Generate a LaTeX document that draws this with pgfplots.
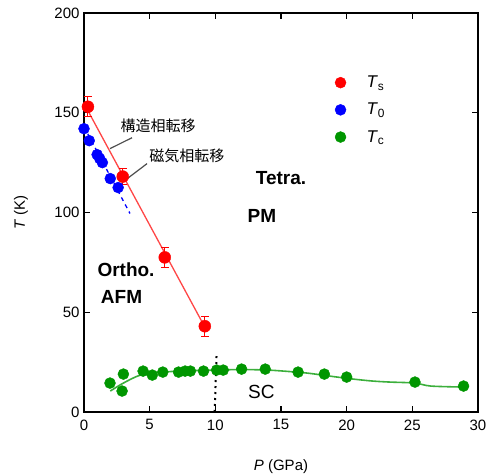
\documentclass[border=0pt]{standalone}
\usepackage{pgfplots}
\pgfplotsset{compat=1.18}
\usepackage{fontspec}
\setmainfont{Liberation Sans}
\newfontfamily\jp{Noto Sans CJK JP}
\definecolor{tsred}{RGB}{255,0,0}
\definecolor{tsline}{RGB}{255,70,70}
\definecolor{tblue}{RGB}{0,0,255}
\definecolor{tcgreen}{RGB}{0,150,0}
\definecolor{tcline}{RGB}{60,175,60}

\begin{document}
\begin{tikzpicture}
\begin{axis}[name=ax,scale only axis,width=394pt,height=399pt,
  xmin=0,xmax=30,ymin=0,ymax=200,
  xtick={0,5,...,30},ytick={0,50,...,200},
  axis line style={line width=2.4pt},
  tick style={line width=1.4pt,black},major tick length=6pt,tick align=inside,
  tick label style={font=\fontsize{15}{15}\selectfont,/pgf/number format/assume math mode=true},
  xticklabel style={yshift=-4pt},
  yticklabel style={xshift=-1pt},
  xlabel={\textit{P} (GPa)},ylabel={\textit{T} (K)},
  every axis x label/.style={at={(axis description cs:0.5,-0.138)},anchor=center,font=\fontsize{15}{15}\selectfont},
  every axis y label/.style={at={(axis description cs:-0.16,0.5)},rotate=90,anchor=center,font=\fontsize{15}{15}\selectfont},
  legend image code/.code={\path[draw=none,fill=none] (0pt,0pt) -- (24pt,0pt); \draw[#1] plot coordinates {(0pt,0pt)};},
  legend style={at={(axis cs:19.1,170.5)},anchor=north west,draw=none,fill=none,
    font=\fontsize{17}{17}\selectfont,row sep=10pt,inner xsep=0pt},
  legend cell align=left,
  clip=false]
% T_s line
\addplot[tsline,line width=1.3pt,forget plot] coordinates {(0.3,151) (9.0,45)};
% T_0 dashed line
\addplot[tblue,line width=1.3pt,dash pattern=on 4pt off 4pt,forget plot] coordinates {(0.0,143) (3.5,99.5)};
% T_c guide line
\addplot[tcline,line width=1.6pt,smooth,forget plot] coordinates {(2.0,10.5) (3.0,14.5) (4.3,18.5) (6,20) (8,20.7) (10,21) (12,21.3) (14,21) (15.2,20.5) (17,19.5) (18.7,18) (20.5,16.5) (22,15.5) (23.3,15) (25.2,14.5) (26.4,13) (28.9,12.5)};
% dotted boundary
\addplot[black,line width=2pt,dash pattern=on 2pt off 4pt,forget plot] coordinates {(9.95,0) (10.1,30)};
% T_0 data
\addplot[only marks,mark=*,mark size=5.5pt,tblue,forget plot] coordinates {(0.0,142) (0.4,136) (1.0,129) (1.2,127) (1.4,125) (2.0,117) (2.6,112.5)};
% T_s data
\addplot[only marks,mark=*,mark size=6pt,tsred,forget plot,
  error bars/.cd,y dir=both,y explicit,error mark options={rotate=90,tsred,mark size=4pt,line width=1pt},error bar style={line width=1pt,tsred}]
  coordinates {(0.3,153) +- (0,5) (2.95,118) +- (0,4) (6.15,77.5) +- (0,5) (9.2,43) +- (0,5)};
% T_c data
\addplot[only marks,mark=*,mark size=5.5pt,tcgreen,forget plot] coordinates {(1.98,14.5) (3.0,19) (2.9,10.5) (4.5,20.5) (5.2,18.5) (6.0,20) (7.2,20) (7.7,20.5) (8.1,20.5) (9.1,20.5) (10.1,21) (10.6,21) (12.0,21.5) (13.8,21.5) (16.3,20) (18.3,19) (20.0,17.5) (25.2,15) (28.9,13)};
\addlegendimage{only marks,mark=*,mark size=5.5pt,tsred}
\addlegendentry{\textit{T}\textsubscript{s}}
\addlegendimage{only marks,mark=*,mark size=5.5pt,tblue}
\addlegendentry{\textit{T}\textsubscript{0}}
\addlegendimage{only marks,mark=*,mark size=5.5pt,tcgreen}
\addlegendentry{\textit{T}\textsubscript{c}}
% annotations
\draw[black!70,line width=1.2pt] (axis cs:3.66,137.5) -- (axis cs:1.98,132);
\draw[black!70,line width=1.2pt] (axis cs:4.8,124.5) -- (axis cs:2.9,115);
\node[font=\jp\fontsize{15}{15}\selectfont] at (axis cs:5.64,143.5) {構造相転移};
\node[font=\jp\fontsize{15}{15}\selectfont] at (axis cs:7.84,128.5) {磁気相転移};
\node[font=\bfseries\fontsize{19}{19}\selectfont] at (axis cs:15.0,117.5) {Tetra.};
\node[font=\bfseries\fontsize{19}{19}\selectfont] at (axis cs:13.55,98.5) {PM};
\node[font=\bfseries\fontsize{19}{19}\selectfont] at (axis cs:3.2,71.5) {Ortho.};
\node[font=\bfseries\fontsize{19}{19}\selectfont] at (axis cs:2.86,57.5) {AFM};
\node[font=\fontsize{19}{19}\selectfont] at (axis cs:13.5,10) {SC};
\end{axis}
\pgfresetboundingbox
\path[use as bounding box] ([shift={(-84pt,-64pt)}]ax.south west) rectangle ([shift={(12pt,13pt)}]ax.north east);
\end{tikzpicture}
\end{document}
